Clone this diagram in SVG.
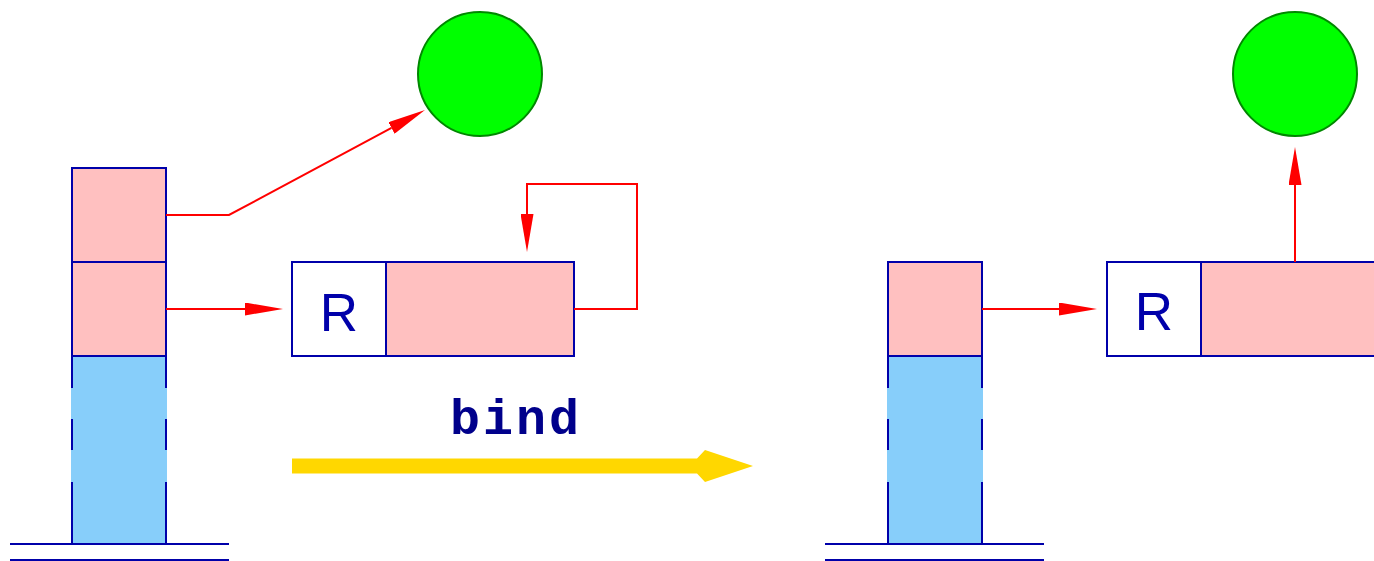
<svg xmlns="http://www.w3.org/2000/svg" width="1374" height="561" viewBox="0 0 1374 561">
<defs>
<style>
.ol{stroke:#0000AA;stroke-width:2;fill:none}
.pink{fill:#FFC0C0;stroke:#0000AA;stroke-width:2}
.white{fill:#FFFFFF;stroke:#0000AA;stroke-width:2}
.blue{fill:#87CEFA;stroke:none}
.conn{stroke:#FF0000;stroke-width:2;fill:none}
.obj{fill:#00FF00;stroke:#008800;stroke-width:2}
.lbl{font-family:"Liberation Sans",Arial,sans-serif;font-size:53px;fill:#0000AA;text-anchor:middle}
.kw{font-family:"Liberation Mono","Courier New",monospace;font-weight:bold;font-size:50px;letter-spacing:3px;fill:#00008B;text-anchor:middle}
</style>
<marker id="ah" viewBox="0 0 38 13" refX="0" refY="6.5" markerWidth="38" markerHeight="13" markerUnits="userSpaceOnUse" orient="auto">
<path d="M0,0 L38,6.5 L0,13 z" fill="#FF0000"/>
</marker>
</defs>
<rect width="1374" height="561" fill="#FFFFFF"/>

<g id="left-stack">
<rect class="blue" x="71" y="356" width="96" height="188"/>
<rect class="pink" x="72" y="168" width="94" height="94"/>
<rect class="pink" x="72" y="262" width="94" height="94"/>
<path class="ol" d="M72,356 V388 M72,419 V450 M72,482 V544 M166,356 V388 M166,419 V450 M166,482 V544 M72,356 H166"/>
<path class="ol" d="M10,544 H229 M10,560 H229"/>
</g>

<g id="left-object">
<circle class="obj" cx="480" cy="74" r="62"/>
</g>

<g id="left-ref">
<rect class="white" x="292" y="262" width="94" height="94"/>
<rect class="pink" x="386" y="262" width="188" height="94"/>
<text class="lbl" x="339" y="331">R</text>
</g>

<g id="bind">
<text class="kw" x="516" y="434">bind</text>
<path d="M292,458.5 H697 L705,450 L753,466 L705,482 L697,473.5 H292 z" fill="#FFD700"/>
</g>

<g id="right-stack">
<rect class="blue" x="887" y="356" width="96" height="188"/>
<rect class="pink" x="888" y="262" width="94" height="94"/>
<path class="ol" d="M888,356 V388 M888,419 V450 M888,482 V544 M982,356 V388 M982,419 V450 M982,482 V544 M888,356 H982"/>
<path class="ol" d="M825,544 H1044 M825,560 H1044"/>
</g>

<g id="right-object">
<circle class="obj" cx="1295" cy="74" r="62"/>
</g>

<g id="right-ref">
<rect class="white" x="1107" y="262" width="94" height="94"/>
<rect class="pink" x="1201" y="262" width="188" height="94"/>
<text class="lbl" x="1154" y="330">R</text>
</g>

<g id="connectors">
<path class="conn" d="M166,215 H229 L391.5,127.9" marker-end="url(#ah)"/>
<path class="conn" d="M166,309 H245" marker-end="url(#ah)"/>
<path class="conn" d="M574,309 H637 V184 H527 V214" marker-end="url(#ah)"/>
<path class="conn" d="M982,309 H1059" marker-end="url(#ah)"/>
<path class="conn" d="M1295,262 V185" marker-end="url(#ah)"/>
</g>
</svg>
